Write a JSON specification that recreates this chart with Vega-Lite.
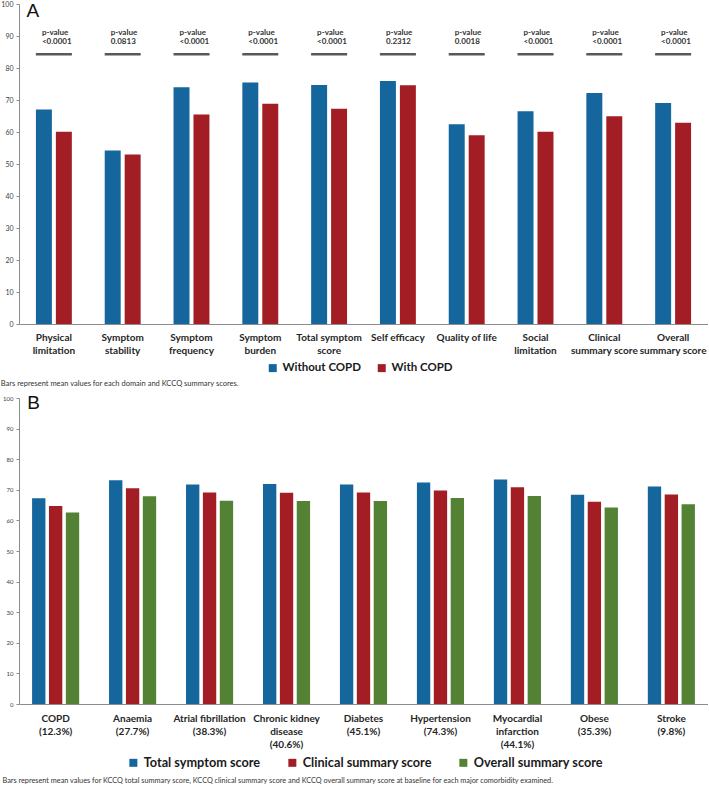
{
  "$schema": "https://vega.github.io/schema/vega-lite/v6.json",
  "padding": 0,
  "spacing": 5,
  "resolve": {
    "scale": {"x": "independent", "y": "independent", "color": "independent", "xOffset": "independent"},
    "axis": {"x": "independent", "y": "independent"},
    "legend": {"color": "independent"}
  },
  "datasets": {
    "kccq": [
      {"domain": "Physical|limitation", "group": "Without COPD", "value": 67.0},
      {"domain": "Physical|limitation", "group": "With COPD", "value": 60.1},
      {"domain": "Symptom|stability", "group": "Without COPD", "value": 54.2},
      {"domain": "Symptom|stability", "group": "With COPD", "value": 53.0},
      {"domain": "Symptom|frequency", "group": "Without COPD", "value": 74.0},
      {"domain": "Symptom|frequency", "group": "With COPD", "value": 65.5},
      {"domain": "Symptom|burden", "group": "Without COPD", "value": 75.5},
      {"domain": "Symptom|burden", "group": "With COPD", "value": 68.8},
      {"domain": "Total symptom|score", "group": "Without COPD", "value": 74.7},
      {"domain": "Total symptom|score", "group": "With COPD", "value": 67.3},
      {"domain": "Self efficacy", "group": "Without COPD", "value": 75.9},
      {"domain": "Self efficacy", "group": "With COPD", "value": 74.6},
      {"domain": "Quality of life", "group": "Without COPD", "value": 62.4},
      {"domain": "Quality of life", "group": "With COPD", "value": 59.0},
      {"domain": "Social|limitation", "group": "Without COPD", "value": 66.5},
      {"domain": "Social|limitation", "group": "With COPD", "value": 60.1},
      {"domain": "Clinical|summary score", "group": "Without COPD", "value": 72.2},
      {"domain": "Clinical|summary score", "group": "With COPD", "value": 64.9},
      {"domain": "Overall|summary score", "group": "Without COPD", "value": 69.1},
      {"domain": "Overall|summary score", "group": "With COPD", "value": 62.9}
    ],
    "pvals": [
      {"domain": "Physical|limitation", "p": "<0.0001"},
      {"domain": "Symptom|stability", "p": "0.0813"},
      {"domain": "Symptom|frequency", "p": "<0.0001"},
      {"domain": "Symptom|burden", "p": "<0.0001"},
      {"domain": "Total symptom|score", "p": "<0.0001"},
      {"domain": "Self efficacy", "p": "0.2312"},
      {"domain": "Quality of life", "p": "0.0018"},
      {"domain": "Social|limitation", "p": "<0.0001"},
      {"domain": "Clinical|summary score", "p": "<0.0001"},
      {"domain": "Overall|summary score", "p": "<0.0001"}
    ],
    "comorb": [
      {"condition": "COPD|(12.3%)", "score": "Total symptom score", "value": 67.2},
      {"condition": "COPD|(12.3%)", "score": "Clinical summary score", "value": 64.7},
      {"condition": "COPD|(12.3%)", "score": "Overall summary score", "value": 62.6},
      {"condition": "Anaemia|(27.7%)", "score": "Total symptom score", "value": 73.1},
      {"condition": "Anaemia|(27.7%)", "score": "Clinical summary score", "value": 70.5},
      {"condition": "Anaemia|(27.7%)", "score": "Overall summary score", "value": 67.9},
      {"condition": "Atrial fibrillation|(38.3%)", "score": "Total symptom score", "value": 71.7},
      {"condition": "Atrial fibrillation|(38.3%)", "score": "Clinical summary score", "value": 69.1},
      {"condition": "Atrial fibrillation|(38.3%)", "score": "Overall summary score", "value": 66.4},
      {"condition": "Chronic kidney|disease|(40.6%)", "score": "Total symptom score", "value": 71.9},
      {"condition": "Chronic kidney|disease|(40.6%)", "score": "Clinical summary score", "value": 69.0},
      {"condition": "Chronic kidney|disease|(40.6%)", "score": "Overall summary score", "value": 66.3},
      {"condition": "Diabetes|(45.1%)", "score": "Total symptom score", "value": 71.7},
      {"condition": "Diabetes|(45.1%)", "score": "Clinical summary score", "value": 69.1},
      {"condition": "Diabetes|(45.1%)", "score": "Overall summary score", "value": 66.3},
      {"condition": "Hypertension|(74.3%)", "score": "Total symptom score", "value": 72.4},
      {"condition": "Hypertension|(74.3%)", "score": "Clinical summary score", "value": 69.8},
      {"condition": "Hypertension|(74.3%)", "score": "Overall summary score", "value": 67.3},
      {"condition": "Myocardial|infarction|(44.1%)", "score": "Total symptom score", "value": 73.4},
      {"condition": "Myocardial|infarction|(44.1%)", "score": "Clinical summary score", "value": 70.8},
      {"condition": "Myocardial|infarction|(44.1%)", "score": "Overall summary score", "value": 68.0},
      {"condition": "Obese|(35.3%)", "score": "Total symptom score", "value": 68.4},
      {"condition": "Obese|(35.3%)", "score": "Clinical summary score", "value": 66.1},
      {"condition": "Obese|(35.3%)", "score": "Overall summary score", "value": 64.2},
      {"condition": "Stroke|(9.8%)", "score": "Total symptom score", "value": 71.1},
      {"condition": "Stroke|(9.8%)", "score": "Clinical summary score", "value": 68.5},
      {"condition": "Stroke|(9.8%)", "score": "Overall summary score", "value": 65.3}
    ]
  },
  "vconcat": [
    {
      "width": 689,
      "height": 320,
      "title": {
        "text": "Bars represent mean values for each domain and KCCQ summary scores.",
        "orient": "bottom", "anchor": "start", "frame": "bounds",
        "fontSize": 7.5, "fontWeight": "normal", "color": "#333333", "offset": 6
      },
      "encoding": {
        "x": {
          "field": "domain", "type": "nominal", "sort": null,
          "scale": {"paddingInner": 0.478, "paddingOuter": 0.246},
          "axis": {
            "title": null, "labelExpr": "split(datum.label, '|')", "labelAngle": 0,
            "ticks": false, "labelFontSize": 10, "labelFontWeight": "bold",
            "labelColor": "#262626", "labelPadding": 8, "labelLineHeight": 13,
            "domainColor": "#8c8c8c"
          }
        },
        "y": {
          "type": "quantitative",
          "scale": {"domain": [0, 100], "nice": false},
          "axis": {"title": null, "values": [0,10,20,30,40,50,60,70,80,90,100], "tickSize": 3,
            "labelFontSize": 7, "labelPadding": 3, "grid": false, "labelColor": "#404040",
            "labelOverlap": false, "tickColor": "#8c8c8c", "domainColor": "#8c8c8c"}
        }
      },
      "layer": [
        {
          "data": {"name": "kccq"},
          "mark": {"type": "bar"},
          "encoding": {
            "xOffset": {"field": "group", "type": "nominal", "sort": ["Without COPD", "With COPD"],
              "scale": {"paddingInner": 0.2, "paddingOuter": 0}},
            "y": {"field": "value"},
            "color": {
              "field": "group", "type": "nominal",
              "scale": {"domain": ["Without COPD", "With COPD"], "range": ["#15669C", "#A31D24"]},
              "legend": {
                "orient": "none", "legendX": 248, "legendY": 358, "direction": "horizontal",
                "title": null, "symbolType": "square", "symbolSize": 64, "symbolStrokeWidth": 0,
                "labelFontSize": 11.5, "labelFontWeight": "bold", "labelColor": "#1a1a1a",
                "columnPadding": 15, "labelOffset": 4
              }
            }
          }
        },
        {
          "data": {"name": "pvals"},
          "mark": {"type": "tick", "size": 36, "thickness": 2.5, "color": "#111111"},
          "encoding": {"y": {"datum": 84.3}}
        },
        {
          "data": {"name": "pvals"},
          "mark": {"type": "text", "align": "left", "dx": -12, "fontSize": 8, "fontWeight": "bold", "color": "#333333"},
          "encoding": {"y": {"datum": 90.9}, "text": {"value": "p-value"}}
        },
        {
          "data": {"name": "pvals"},
          "mark": {"type": "text", "align": "left", "dx": -12, "fontSize": 8, "fontWeight": "bold", "color": "#333333"},
          "encoding": {"y": {"datum": 88.0}, "text": {"field": "p"}}
        },
        {
          "data": {"values": [{"panel": "A"}]},
          "mark": {"type": "text", "align": "left", "dx": -27.5, "fontSize": 19, "font": "Liberation Sans", "color": "#111111"},
          "encoding": {
            "x": {"datum": "Physical|limitation", "type": "nominal"},
            "y": {"datum": 97.8},
            "text": {"field": "panel"}
          }
        }
      ]
    },
    {
      "width": 689,
      "height": 306,
      "title": {
        "text": "Bars represent mean values for KCCQ total summary score, KCCQ clinical summary score and KCCQ overall summary score at baseline for each major comorbidity examined.",
        "orient": "bottom", "anchor": "start", "frame": "bounds",
        "fontSize": 7.3, "fontWeight": "normal", "color": "#333333", "offset": 7
      },
      "encoding": {
        "x": {
          "field": "condition", "type": "nominal", "sort": null,
          "scale": {"paddingInner": 0.388, "paddingOuter": 0.17},
          "axis": {
            "title": null, "labelExpr": "split(datum.label, '|')", "labelAngle": 0,
            "ticks": false, "labelFontSize": 10, "labelFontWeight": "bold",
            "labelColor": "#262626", "labelPadding": 9, "labelLineHeight": 13,
            "domainColor": "#8c8c8c"
          }
        },
        "y": {
          "type": "quantitative",
          "scale": {"domain": [0, 100], "nice": false},
          "axis": {"title": null, "values": [0,10,20,30,40,50,60,70,80,90,100], "tickSize": 3,
            "labelFontSize": 6, "labelPadding": 3, "grid": false, "labelColor": "#404040",
            "labelOverlap": false, "tickColor": "#8c8c8c", "domainColor": "#8c8c8c"}
        }
      },
      "layer": [
        {
          "data": {"name": "comorb"},
          "mark": {"type": "bar"},
          "encoding": {
            "xOffset": {"field": "score", "type": "nominal",
              "sort": ["Total symptom score", "Clinical summary score", "Overall summary score"],
              "scale": {"paddingInner": 0.21, "paddingOuter": 0}},
            "y": {"field": "value"},
            "color": {
              "field": "score", "type": "nominal",
              "scale": {"domain": ["Total symptom score", "Clinical summary score", "Overall summary score"],
                "range": ["#15669C", "#A31D24", "#548235"]},
              "legend": {
                "orient": "none", "legendX": 108, "legendY": 358, "direction": "horizontal",
                "title": null, "symbolType": "square", "symbolSize": 64, "symbolStrokeWidth": 0,
                "labelFontSize": 12.7, "labelFontWeight": "bold", "labelColor": "#1a1a1a",
                "columnPadding": 25, "labelOffset": 4
              }
            }
          }
        },
        {
          "data": {"values": [{"panel": "B"}]},
          "mark": {"type": "text", "align": "left", "dx": -28.5, "fontSize": 19, "font": "Liberation Sans", "color": "#111111"},
          "encoding": {
            "x": {"datum": "COPD|(12.3%)", "type": "nominal"},
            "y": {"datum": 98.4},
            "text": {"field": "panel"}
          }
        }
      ]
    }
  ],
  "config": {
    "view": {"stroke": null},
    "font": "Lato",
    "legend": {"padding": 0}
  }
}
